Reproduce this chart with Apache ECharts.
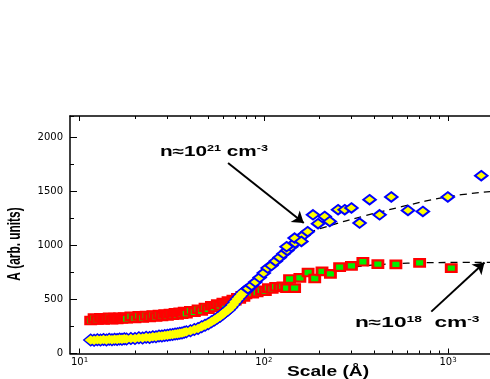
<!DOCTYPE html>
<html><head><meta charset="utf-8">
<script src="https://cdn.jsdelivr.net/npm/echarts@6/dist/echarts.min.js"></script>
<style>html,body{margin:0;padding:0;background:#fff}#c{width:490px;height:379px}</style>
</head><body><div id="c"></div>
<script>
// ---- data (Scale in Å, A in arb. units) ----
const denseScale = [11.5,12,12.5,13,13.5,14,14.5,15,15.5,16,16.5,17,17.5,18,
  19,20,21,22,23,24,25,26,27,28,29,30,31,32,33,34,35,36,37,38,
  40,42,44,46,48,50,52,54,56,58,60,62,64,66,68,70,72,74,76,78,80];
const denseLow = [306,328,310,330,312,326,334,314,332,316,336,320,338,322,
  344,326,348,330,352,334,356,338,360,344,366,348,370,354,376,358,382,364,388,370,
  396,382,410,394,426,410,442,426,458,442,472,456,486,472,500,490,516,506,534,524,548];
const denseHigh = [125,122,128,124,130,126,131,128,133,130,135,132,137,134,
  140,138,145,143,150,149,156,155,161,162,167,168,173,176,181,183,187,191,197,201,
  211,222,232,247,262,276,293,310,328,346,366,386,404,427,452,479,505,528,551,570,584];
const chainScale = [82,86,90,95,100,105,110,116,122,128,134,141,148,156,164,173];
const chainHigh  = [600,631,662,703,745,792,815,855,890,925,955,990,1025,1066,1095,1128];
const sparseHighScale = [133,147,160,185,197,214,228,253,275,299,331,375,425,492,606,730,997,1514];
const sparseHigh      = [990,1069,1038,1285,1202,1270,1223,1332,1332,1348,1208,1425,1285,1450,1325,1316,1450,1647];
const sparseLowScale = [87,92,97,102,106,111,116,122,127,133,138,147,157,174,189,207,230,258,299,345,416,521,701,1041];
const sparseLow      = [555,565,585,578,605,598,618,612,622,605,690,605,700,750,695,760,738,800,812,850,828,826,840,791];
const fitHighScale = [175,228,344,567,994,1689];
const fitHigh      = [1120,1185,1270,1362,1452,1500];
const fitLowScale  = [200,237,300,385,520,701,1000,1689];
const fitLow       = [750,775,800,818,832,840,843,845];
const arrowHigh = [[64,1765],[164.8,1208]];
const arrowLow  = [[811,388],[1577,843]];
const xMajorTicks = [10,100,1000];
const xTickExp = ['1','2','3'];
const xMinorTicks = [20,30,40,50,60,70,80,90,200,300,400,500,600,700,800,900];
const xMin = 8.88, xMax = 1689, yMin = 0, yMax = 2200;

const zip = (xs, ys) => xs.map((x, i) => [x, ys[i]]);
const FONT = '"Liberation Sans", Arial, Helvetica, sans-serif';
const LFONT = '"DejaVu Sans", sans-serif';

function logAxis(pos, major, showLine) {
  return {
    type: 'log', logBase: 10, min: xMin, max: xMax, position: pos,
    axisLine: { show: showLine, onZero: false, lineStyle: { color: '#000', width: 1.5 } },
    axisTick: { show: true, inside: true, length: major ? 5 : 3,
      customValues: major ? xMajorTicks : xMinorTicks, lineStyle: { color: '#000', width: 1 } },
    axisLabel: { show: false },
    splitLine: { show: false }, minorTick: { show: false }
  };
}
const xAxes = [logAxis('bottom', true, true), logAxis('bottom', false, false),
               logAxis('top', true, true), logAxis('top', false, false)];
xAxes[0].axisLabel = {
  show: true, customValues: xMajorTicks, margin: 3,
  formatter: v => {
    const e = Math.round(Math.log10(v));
    const idx = xMajorTicks.findIndex(t => Math.round(Math.log10(t)) === e);
    return '{b|10}{s|' + xTickExp[idx] + '}';
  },
  rich: {
    b: { fontSize: 10, fontFamily: LFONT, color: '#000', lineHeight: 12 },
    s: { fontSize: 7, fontFamily: LFONT, color: '#000', lineHeight: 7, verticalAlign: 'top' }
  }
};

const chart = echarts.init(document.getElementById('c'), null, { renderer: 'canvas' });
chart.setOption({
  animation: false,
  backgroundColor: '#fff',
  grid: { left: 70, right: 0, top: 116, bottom: 25.5, outerBoundsMode: 'none' },
  xAxis: xAxes,
  yAxis: [
    { type: 'value', min: yMin, max: yMax, interval: 500, position: 'left',
      axisLine: { show: true, onZero: false, lineStyle: { color: '#000', width: 1.5 } },
      axisTick: { show: true, inside: true, length: 7, lineStyle: { color: '#000', width: 1 } },
      axisLabel: { show: true, showMaxLabel: false, margin: 7, fontSize: 10, fontFamily: LFONT, color: '#000',
        formatter: v => String(v) },
      splitLine: { show: false } },
    { type: 'value', min: yMin, max: yMax, interval: 250, position: 'left',
      axisLine: { show: false, onZero: false },
      axisTick: { show: true, inside: true, length: 4, lineStyle: { color: '#000', width: 1 } },
      axisLabel: { show: false }, splitLine: { show: false } }
  ],
  series: [
    { type: 'line', data: zip(fitLowScale, fitLow), showSymbol: false, smooth: 0.4, silent: true, z: 1,
      lineStyle: { color: '#000', width: 1.3, type: [7, 5] } },
    { type: 'line', data: zip(fitHighScale, fitHigh), showSymbol: false, smooth: 0.4, silent: true, z: 1,
      lineStyle: { color: '#000', width: 1.3, type: [7, 5] },
      markLine: { silent: true, symbol: ['none', 'arrow'], symbolSize: 11, animation: false,
        label: { show: false },
        lineStyle: { color: '#000', width: 2, type: 'solid' },
        data: [[{ coord: arrowHigh[0] }, { coord: arrowHigh[1] }],
               [{ coord: arrowLow[0] }, { coord: arrowLow[1] }]] } },
    { type: 'scatter', silent: true, z: 2, symbol: 'rect', symbolSize: [10, 7.5],
      data: zip(denseScale, denseLow).concat(zip(sparseLowScale, sparseLow)),
      itemStyle: { color: '#00ee00', borderColor: '#ff0000', borderWidth: 2.5, opacity: 1 } },
    { type: 'scatter', silent: true, z: 3, symbol: 'diamond', symbolSize: [16, 13.5],
      data: zip(denseScale, denseHigh), itemStyle: { color: '#0000ff', opacity: 1 } },
    { type: 'scatter', silent: true, z: 4, symbol: 'diamond', symbolSize: [12, 9.5],
      data: zip(denseScale, denseHigh), itemStyle: { color: '#ffff00', opacity: 1 } },
    { type: 'scatter', silent: true, z: 5, symbol: 'diamond', symbolSize: [12.5, 9.5],
      data: zip(chainScale, chainHigh).concat(zip(sparseHighScale, sparseHigh)),
      itemStyle: { color: '#ffff00', borderColor: '#0000ff', borderWidth: 2, opacity: 1 } }
  ],
  graphic: [
    { type: 'text', x: 160, y: 152, scaleX: 1.48, silent: true,
      style: { text: '{a|n≈10}{s|21}{a| cm}{s|-3}', align: 'left', verticalAlign: 'middle',
        textAlign: 'left', textVerticalAlign: 'middle',
        rich: { a: { fontSize: 14, fontWeight: 'bold', fontFamily: FONT, fill: '#000', lineHeight: 16 },
                s: { fontSize: 8.5, fontWeight: 'bold', fontFamily: FONT, fill: '#000', lineHeight: 9, verticalAlign: 'top' } } } },
    { type: 'text', x: 355, y: 323, scaleX: 1.62, silent: true,
      style: { text: '{a|n≈10}{s|18}{a|  cm}{s|-3}', align: 'left', verticalAlign: 'middle',
        textAlign: 'left', textVerticalAlign: 'middle',
        rich: { a: { fontSize: 14, fontWeight: 'bold', fontFamily: FONT, fill: '#000', lineHeight: 16 },
                s: { fontSize: 8.5, fontWeight: 'bold', fontFamily: FONT, fill: '#000', lineHeight: 9, verticalAlign: 'top' } } } },
    { type: 'text', x: 328, y: 372, scaleX: 1.28, silent: true,
      style: { text: 'Scale (Å)', font: 'bold 15px ' + FONT, fill: '#000',
        align: 'center', verticalAlign: 'middle', textAlign: 'center', textVerticalAlign: 'middle' } },
    { type: 'text', x: 15, y: 244, rotation: Math.PI / 2, scaleX: 0.66, silent: true,
      style: { text: 'A (arb. units)', font: 'bold 18px ' + FONT, fill: '#000',
        align: 'center', verticalAlign: 'middle', textAlign: 'center', textVerticalAlign: 'middle' } }
  ]
});
</script></body></html>
